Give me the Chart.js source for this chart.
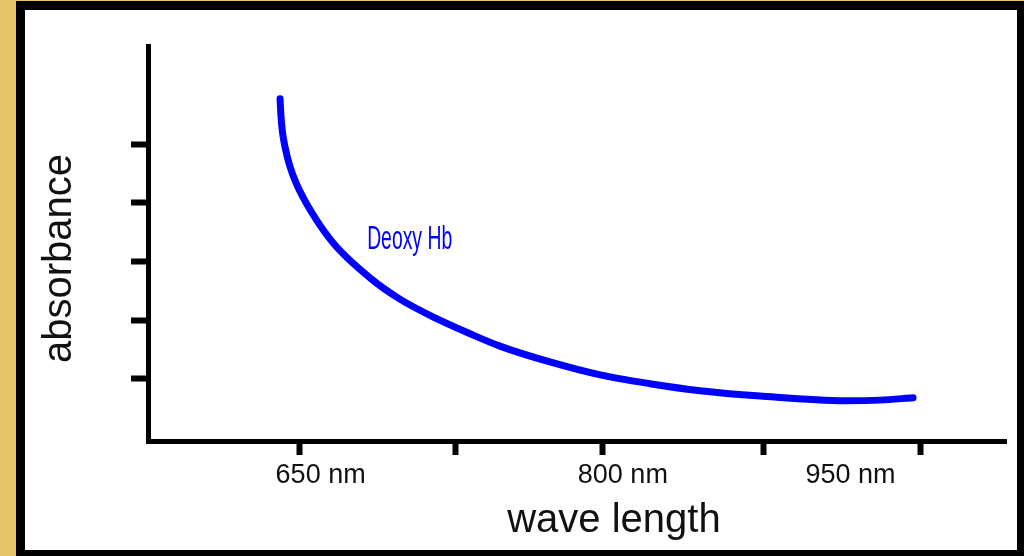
<!DOCTYPE html>
<html>
<head>
<meta charset="utf-8">
<script src="https://cdn.jsdelivr.net/npm/chart.js@4/dist/chart.umd.min.js"></script>
<style>
  html, body { margin: 0; padding: 0; }
  body { width: 1024px; height: 556px; overflow: hidden; background: #e8c46a; position: relative; }
  #frame { position: absolute; left: 16px; top: 1px; width: 992px; height: 540px;
           border-style: solid; border-color: #000; border-width: 9px 7px 6px 9px; background: #fff; }
  canvas { display: block; }
</style>
</head>
<body>
<div id="frame"><canvas id="c" width="992" height="540"></canvas></div>
<script>
// ---- data ----
const waveLength = [640.4, 640.8, 641.5, 642.8, 645.0, 648.1, 655.8, 666.9, 683.9, 698.3, 715.3, 732.2, 746.6, 770.8, 795.0, 819.1, 843.3, 872.3, 913.3, 930.2, 946.2];
const absorbance = [5.77, 5.50, 5.22, 4.95, 4.64, 4.34, 3.83, 3.28, 2.72, 2.36, 2.04, 1.77, 1.56, 1.29, 1.07, 0.92, 0.80, 0.71, 0.63, 0.64, 0.68];
const seriesName = 'Deoxy Hb';
const xTickMarks = [650, 725, 796, 874, 950];
const xLabelValues = [660, 806, 916];
const xLabelTexts = ['650 nm', '800 nm', '950 nm'];
const yTickMarks = [1, 2, 3, 4, 5];
const seriesLabelAt = [703, 3.37];
const xTitle = 'wave length';
const yTitle = 'absorbance';

const regular = "'Liberation Sans', Arial, sans-serif";

const textPlugin = {
  id: 'texts',
  afterDraw(chart) {
    const { ctx, chartArea, scales } = chart;
    ctx.save();
    ctx.fillStyle = '#0000ff';
    ctx.font = "33px " + regular;
    ctx.textAlign = 'center';
    ctx.textBaseline = 'middle';
    const lx = scales.x.getPixelForValue(seriesLabelAt[0]);
    const ly = scales.y.getPixelForValue(seriesLabelAt[1]);
    const w = ctx.measureText(seriesName).width;
    ctx.translate(lx, ly);
    ctx.scale(85 / w, 1);
    ctx.fillText(seriesName, 0, 0);
    ctx.restore();

    ctx.save();
    ctx.fillStyle = '#111';
    ctx.font = "40px " + regular;
    ctx.textAlign = 'center';
    ctx.textBaseline = 'alphabetic';
    ctx.fillText(xTitle, chartArea.left + (chartArea.right - chartArea.left) * 0.543, chartArea.bottom + 91);
    ctx.translate(35, chartArea.top + (chartArea.bottom - chartArea.top) * 0.538);
    ctx.rotate(-Math.PI / 2);
    ctx.textBaseline = 'middle';
    ctx.fillText(yTitle, 0, 0);
    ctx.restore();
  }
};

new Chart(document.getElementById('c'), {
  type: 'line',
  data: {
    datasets: [{
      label: seriesName,
      data: waveLength.map((x, i) => ({ x: x, y: absorbance[i] })),
      borderColor: '#0000ff',
      borderWidth: 7,
      borderCapStyle: 'round',
      borderJoinStyle: 'round',
      pointRadius: 0,
      cubicInterpolationMode: 'monotone',
      fill: false
    }]
  },
  options: {
    responsive: false,
    animation: false,
    layout: { padding: { top: 36, right: 11, left: 0, bottom: 0 } },
    plugins: { legend: { display: false }, tooltip: { enabled: false } },
    scales: {
      x: {
        type: 'linear', position: 'bottom', weight: 0,
        min: 576.6, max: 991.1,
        afterBuildTicks: s => { s.ticks = xTickMarks.map(v => ({ value: v })); },
        afterFit: s => { s.height = 15; },
        border: { display: true, color: '#000', width: 5 },
        grid: { drawOnChartArea: false, drawTicks: true, tickLength: 14, tickWidth: 6, tickColor: '#000', color: '#000' },
        ticks: { display: false }
      },
      x2: {
        type: 'linear', position: 'bottom', weight: 1,
        min: 576.6, max: 991.1,
        afterBuildTicks: s => { s.ticks = xLabelValues.map(v => ({ value: v })); },
        afterFit: s => { s.height = 94; },
        border: { display: false },
        grid: { display: false, drawTicks: false },
        ticks: {
          autoSkip: false, maxRotation: 0, padding: 3, color: '#111',
          font: { family: regular, size: 27 },
          callback: (v) => { const i = xLabelValues.indexOf(v); return i >= 0 ? xLabelTexts[i] : ''; }
        }
      },
      y: {
        type: 'linear', position: 'left',
        min: -0.056, max: 6.67,
        afterBuildTicks: s => { s.ticks = yTickMarks.map(v => ({ value: v })); },
        afterFit: s => { s.width = 123; },
        border: { display: true, color: '#000', width: 5 },
        grid: { drawOnChartArea: false, drawTicks: true, tickLength: 17, tickWidth: 6, tickColor: '#000', color: '#000' },
        ticks: { display: false }
      }
    }
  },
  plugins: [textPlugin]
});
</script>
</body>
</html>
